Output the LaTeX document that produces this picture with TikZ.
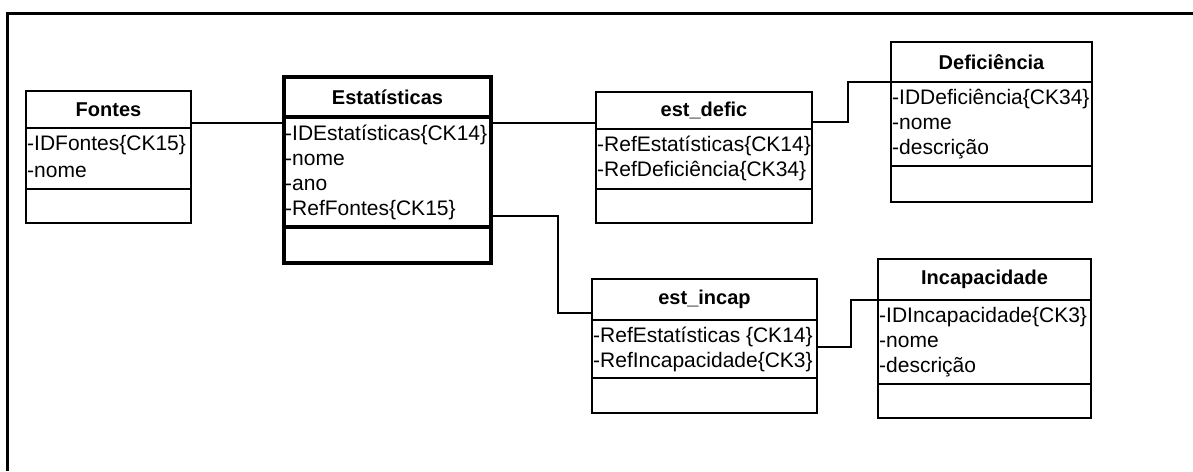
\documentclass[tikz,border=0pt]{standalone}
\usepackage{fontspec}
\setmainfont{Liberation Sans}
\begin{document}
\begin{tikzpicture}[x=1pt,y=-1pt,
  box/.style={draw, line width=1.6pt, inner sep=0pt, outer sep=0pt, anchor=north west},
  heavy/.style={line width=3.4pt},
  ttl/.style={font=\fontsize{20}{24}\selectfont\bfseries},
  attr/.style={anchor=north west, inner sep=0pt, align=left, font=\fontsize{21}{25}\selectfont},
  link/.style={line width=1.3pt}]
\useasboundingbox (0,0) rectangle (1193,471);
\fill[white] (0,0) rectangle (1193,471);
% frame
\draw[line width=3pt] (7.5,471) -- (7.5,13) -- (1193,13);

% Fontes
\node[box, ttl, minimum width=165pt, minimum height=37pt] (fT) at (26,91) {Fontes};
\node[box, minimum width=165pt, minimum height=61pt] (fA) at (fT.south west) {};
\node[box, minimum width=165pt, minimum height=34pt] (fM) at (fA.south west) {};
\node[attr, font=\fontsize{21}{27}\selectfont] (fL) at ([xshift=1pt,yshift=-7pt]fA.north west) {-IDFontes\{CK15\}\\-nome};

% Estatisticas
\node[box, heavy, ttl, minimum width=207pt, minimum height=40pt] (eT) at (284,77) {Estatísticas};
\node[box, heavy, minimum width=207pt, minimum height=110pt] (eA) at (eT.south west) {};
\node[box, heavy, minimum width=207pt, minimum height=36pt] (eM) at (eA.south west) {};
\node[attr] (eL) at ([xshift=1pt,yshift=-8pt]eA.north west) {-IDEstatísticas\{CK14\}\\-nome\\-ano\\-RefFontes\{CK15\}};

% est_defic
\node[box, ttl, minimum width=216pt, minimum height=37pt] (dT) at (596,92) {est\_defic};
\node[box, minimum width=216pt, minimum height=60pt] (dA) at (dT.south west) {};
\node[box, minimum width=216pt, minimum height=34pt] (dM) at (dA.south west) {};
\node[attr] (dL) at ([xshift=1pt,yshift=-7pt]dA.north west) {-RefEstatísticas\{CK14\}\\-RefDeficiência\{CK34\}};

% Deficiencia
\node[box, ttl, minimum width=201pt, minimum height=40pt] (DT) at (891,42) {Deficiência};
\node[box, minimum width=201pt, minimum height=84pt] (DA) at (DT.south west) {};
\node[box, minimum width=201pt, minimum height=36pt] (DM) at (DA.south west) {};
\node[attr] (DL) at ([xshift=1pt,yshift=-7pt]DA.north west) {-IDDeficiência\{CK34\}\\-nome\\-descrição};

% est_incap
\node[box, ttl, minimum width=225pt, minimum height=41pt] (iT) at (592,279) {est\_incap};
\node[box, minimum width=225pt, minimum height=58pt] (iA) at (iT.south west) {};
\node[box, minimum width=225pt, minimum height=35pt] (iM) at (iA.south west) {};
\node[attr] (iL) at ([xshift=1pt,yshift=-7pt]iA.north west) {-RefEstatísticas \{CK14\}\\-RefIncapacidade\{CK3\}};

% Incapacidade
\node[box, ttl, minimum width=213pt, minimum height=41pt] (IT) at (878,259) {Incapacidade};
\node[box, minimum width=213pt, minimum height=84pt] (IA) at (IT.south west) {};
\node[box, minimum width=213pt, minimum height=34pt] (IM) at (IA.south west) {};
\node[attr] (IL) at ([xshift=1pt,yshift=-7pt]IA.north west) {-IDIncapacidade\{CK3\}\\-nome\\-descrição};

% associations
\draw[link] (fT.east |- 0,123) -- (eA.west |- 0,123);
\draw[link] (eA.east |- 0,123) -- (dT.west |- 0,123);
\draw[link] (dA.east |- 0,122) -- (848,122) -- (848,82) -- (DA.north west);
\draw[link] (eA.east |- 0,216) -- (558,216) -- (558,313) -- (iT.west |- 0,313);
\draw[link] (iA.east |- 0,347) -- (851,347) -- (851,300) -- (IA.north west);
\end{tikzpicture}
\end{document}
